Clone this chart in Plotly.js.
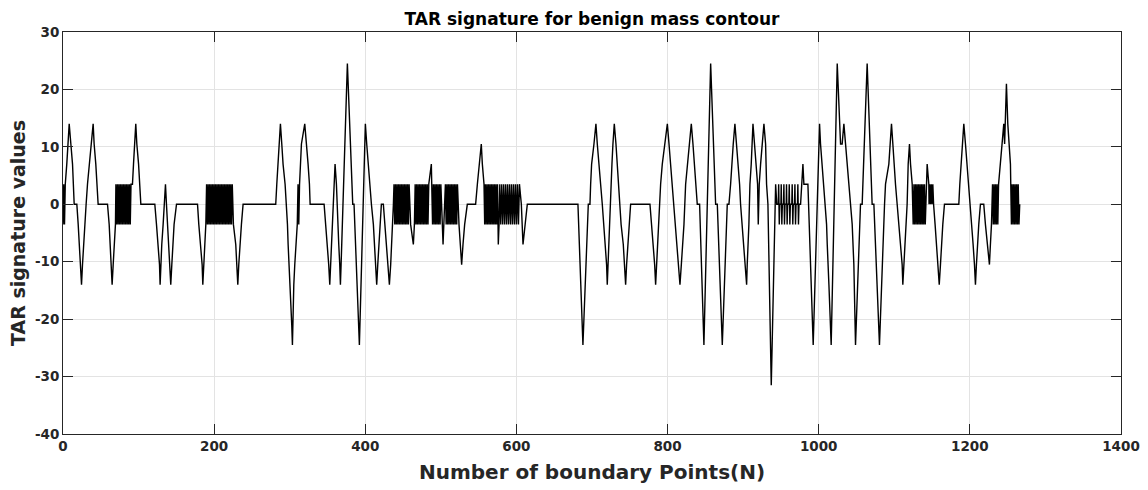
<!DOCTYPE html>
<html>
<head>
<meta charset="utf-8">
<script src="https://cdn.plot.ly/plotly-3.0.1.min.js"></script>
<style>html,body{margin:0;padding:0;background:#fff;}#chart{width:1148px;height:490px;}</style>
</head>
<body>
<div id="chart"></div>
<script>
// Vertices of the TAR signature polyline (N = boundary point, V = TAR value)
const segA_N = [0,1,2,3,5,6.5,8.2,10.4,12.6,14.8,18.3,20.1,21.8,23.6,24.5,25.8,27.1,28.9,30.6,32.4,34.6,36.8,39.9,41.2,43.4,46.5,58.9,61.1,62.4,64.2,65,66.4,67.7,69.4,
  70,71,72,73,74,75,76,77,78,79,80,81,82,83,84,85,86,87,88,89,90,
  91.9,93.3,95,96.3,97.7,100,103,121.5,123.7,125.9,127.7,128.5,129.4,130.7,132.5,133.8,135.6,136.9,138.2,140,141.3,142.6,144,145.3,147,150.2,178,179.7,182.3,184.1,185,186.3,187.6,189,
  190,191,192,193,194,195,196,197,198,199,200,201,202,203,204,205,206,207,208,209,210,211,212,213,214,215,216,217,218,219,220,221,222,223,224];
const segA_V = [-3.5,3.5,-3.5,3.5,7,10.5,14,10.5,7,0,0,-3.5,-7,-10.5,-14,-10.5,-7,-3.5,0,3.5,7,10.5,14,10.5,7,0,0,-3.5,-7,-10.5,-14,-10.5,-7,-3.5,
  3.5,-3.5,3.5,-3.5,3.5,-3.5,3.5,-3.5,3.5,-3.5,3.5,-3.5,3.5,-3.5,3.5,-3.5,3.5,-3.5,3.5,-3.5,3.5,
  3.5,7,10.5,14,10.5,7,0,0,-3.5,-7,-10.5,-14,-10.5,-7,-3.5,0,3.5,0,-3.5,-7,-10.5,-14,-10.5,-7,-3.5,0,0,-3.5,-7,-10.5,-14,-10.5,-7,-3.5,
  3.5,-3.5,3.5,-3.5,3.5,-3.5,3.5,-3.5,3.5,-3.5,3.5,-3.5,3.5,-3.5,3.5,-3.5,3.5,-3.5,3.5,-3.5,3.5,-3.5,3.5,-3.5,3.5,-3.5,3.5,-3.5,3.5,-3.5,3.5,-3.5,3.5,-3.5,3.5];

const segB_N = [225.5,228.6,230,231.3,232.6,233.9,236.1,238.3,281.5,282.9,284.2,286,287.7,289.5,291.2,293.9,295.6,297,297.9,299.2,301,301.8,302.7,303.6,304.5,305.4,306.7,308.4,310,311,312,313,314.2,315.5,319.9,321.6,324.3,326.1,327,345.5,347.7,349.9,351.6,353,354.3,356.1,358.7,360,361.8,363.5,364.9,366.2,367.1,368,376.3,383.4,385.1,392.2,400.1,401.9,403.7,405.9,408.1,410.7,412.5,413.8,415.1,416.5,418.2,419.5,421.3,423.9,425.7,428.3,430.1,431.9,433.6,435,436.3,437.2];
const segB_V = [-3.5,-7,-10.5,-14,-10.5,-7,-3.5,0,0,3.5,7,10.5,14,10.5,7,3.5,0,-3.5,-7,-10.5,-14,-17.5,-21,-24.5,-17.5,-14,-10.5,-7,-3.5,3.5,-3.5,3.5,7,10.5,14,10.5,7,3.5,0,0,-3.5,-7,-10.5,-14,-10.5,-3.5,3.5,7,3.5,-3.5,-7,-10.5,-14,-10.5,24.5,0,0,-24.5,14,10.5,7,3.5,0,-3.5,-7,-10.5,-14,-10.5,-7,-3.5,0,0,-3.5,-7,-10.5,-14,-10.5,-7,-3.5,0];

const segC_N = [438,439,440,441,442,443,444,445,446,447,448,449,450,451,452,453,454,455,456,457,458,460,463.6,465,
  466,467,468,469,470,471,472,473,474,475,476,477,478,479,480,481,482,483,484,487.4,
  489,490,491,492,493,494,495,496,497,498,499,500,502.9,504,
  506,507,508,509,510,511,512,513,514,515,516,517,518,519,520,521,522,524,526.2,527.5,529.3,531.5,535,546,548.3,550.9,553.5,554.9,557.1,
  558,559,560,561,562,563,564,565,566,567,568,569,570,571,572,573,574,575,576,577,
  578,579.3,580.6,581.9,583.2,584.5,585.8,587.1,588.4,589.7,591,592.3,593.6,594.9,596.2,597.5,598.8,600.1,601.4,602.7,604,605.6,606.5,608.7,611.3,614.4];
const segC_V = [3.5,-3.5,3.5,-3.5,3.5,-3.5,3.5,-3.5,3.5,-3.5,3.5,-3.5,3.5,-3.5,3.5,-3.5,3.5,-3.5,3.5,-3.5,3.5,-3.5,-7,-3.5,
  3.5,-3.5,3.5,-3.5,3.5,-3.5,3.5,-3.5,3.5,-3.5,3.5,-3.5,3.5,-3.5,3.5,-3.5,3.5,-3.5,3.5,7,
  -3.5,3.5,-3.5,3.5,-3.5,3.5,-3.5,3.5,-3.5,3.5,-3.5,3.5,-7,-3.5,
  3.5,-3.5,3.5,-3.5,3.5,-3.5,3.5,-3.5,3.5,-3.5,3.5,-3.5,3.5,-3.5,3.5,-3.5,3.5,-3.5,-7,-10.5,-7,-3.5,0,0,3.5,7,10.5,7,3.5,
  -3.5,3.5,-3.5,3.5,-3.5,3.5,-3.5,3.5,-3.5,3.5,-3.5,3.5,-3.5,3.5,-3.5,3.5,-3.5,3.5,-7,-3.5,
  3.5,-3.5,3.5,-3.5,3.5,-3.5,3.5,-3.5,3.5,-3.5,3.5,-3.5,3.5,-3.5,3.5,-3.5,3.5,-3.5,3.5,-3.5,3.5,0,0,-7,-3.5,0];

const segD_N = [681.4,688,695.1,697.3,698.2,699.5,702.6,705.2,707,709.6,711.4,713.6,715.8,718,719.3,720.2,721.1,722.4,723.7,725.1,726.4,727.7,729.5,731.7,733.4,735.6,737,738.5,741.4,743.2,744.5,745.8,747.6,749.4,751.1,776.7,778.9,781.1,782.9,784.2,785.5,786.9,788.6,790.8,793,796.1,799.7,801.9,804.1,807.6,810.7,812.9,815.1,816.4,818.2,819.9,821.7,823.9,826.1,828.8,831.4,833.6,835.8,839.3,842.4];
const segD_V = [0,-24.5,0,0,3.5,7,10.5,14,10.5,7,3.5,0,-3.5,-7,-10.5,-14,-10.5,-7,-3.5,3.5,7,10.5,14,10.5,7,3.5,0,-3.5,-7,-10.5,-14,-10.5,-7,-3.5,0,0,-3.5,-7,-10.5,-14,-10.5,-7,-3.5,3.5,7,10.5,14,10.5,7,0,-3.5,-7,-10.5,-14,-10.5,-7,-3.5,3.5,7,10.5,14,10.5,7,0,0];

const segE_N = [848.1,857,863.6,865.8,872.4,879,881.2,883.4,884.7,886.9,889.1,891.3,893.1,895.3,896.6,898.8,901,903.2,904.6,905.4,906.8,907.6,909,910.7,913,915.2,917.8,919.1,920,921.3,923.1,925.7,927.5,929.7,931,932.8,937.2,943,944.5,946.5,
  947,947.8,948.5,950,950.4,951.2,951.9,953.4,953.9,954.7,955.4,957,957.4,958.2,958.9,960.5,961,961.8,962.5,964.4,964.9,965.7,966.4,968,968.5,969.3,970,971.9,972.4,973.2,973.9,976,
  979.1,980.4,985.7,992.7,1001.1,1002.4,1004.6,1006.8,1009,1010.4,1011.3,1012.1,1013.5,1016.5,1024.5,1028.9,1031,1033.3,1035.5,1037.7,1039.9,1042.1,1044.3,1046.5,1048.7,1055.3,1057.5];
const segE_V = [-24.5,24.5,0,0,-24.5,0,0,3.5,7,10.5,14,10.5,7,3.5,0,-3.5,-7,-10.5,-14,-10.5,-7,-3.5,3.5,7,14,10.5,7,3.5,-3.5,3.5,7,10.5,14,10.5,3.5,0,-31.5,3.5,0,0,
  3.5,-3.5,0,0,3.5,-3.5,0,0,3.5,-3.5,0,0,3.5,-3.5,0,0,3.5,-3.5,0,0,3.5,-3.5,0,0,3.5,-3.5,0,0,3.5,-3.5,0,0,
  7,3.5,3.5,-24.5,14,10.5,7,3.5,0,-3.5,-7,-10.5,-14,-24.5,24.5,10.5,10.5,14,10.5,7,3.5,0,-3.5,-10.5,-24.5,0,0];

const segF_N = [1064.1,1070.7,1073,1080.4,1087.1,1088.4,1092.8,1095,1096.3,1098.1,1099.4,1101.6,1103.8,1106,1108.2,1110.4,1111.3,1112.6,1114,1115.3,1117,1118.4,1120.1,1121.5,1123.7,
  1125,1126,1127,1128,1129,1130,1131,1132,1133,1134,1135,1136,1137,1138,1139,1140,1141,1143.5,1145.7,
  1146,1147,1148,1149,1150,1151,1152,1154,1156,1157.8,1159.5,1161.1,1162.4,1164.2,1166.4,1185.4,1186.7,1188.5,1190.2,1192,1194.2,1196.4,1198.6,1200.8,1203,1204.3,1206.1,1207.4,1208.7,1210,1211.8,1214,1218.4,1220.6,1222.8,1225.9,1227.2,1228.6,
  1230,1231,1232,1233,1234,1235,1236,1237,1238,1240.5,1242.7,1244.9,1246,1247,1248.4,1250.2,1251.5,1253.7,
  1255,1256,1257,1258,1259,1260,1261,1262,1263,1264,1265,1266];
const segF_V = [24.5,0,0,-24.5,0,3.5,7,10.5,14,10.5,7,3.5,0,-3.5,-7,-10.5,-14,-10.5,-7,-3.5,0,7,10.5,7,3.5,
  -3.5,3.5,-3.5,3.5,-3.5,3.5,-3.5,3.5,-3.5,3.5,-3.5,3.5,-3.5,3.5,-3.5,3.5,-3.5,7,3.5,
  0,3.5,0,3.5,0,3.5,0,-3.5,-7,-10.5,-14,-10.5,-7,-3.5,0,0,3.5,7,10.5,14,10.5,7,3.5,0,-3.5,-7,-10.5,-14,-10.5,-7,-3.5,0,0,-3.5,-7,-10.5,-7,-3.5,
  3.5,-3.5,3.5,-3.5,3.5,-3.5,3.5,-3.5,3.5,7,10.5,14,10.5,14,21,14,10.5,7,
  -3.5,3.5,-3.5,3.5,-3.5,3.5,-3.5,3.5,-3.5,3.5,-3.5,0];

const xTicks = [0,200,400,600,800,1000,1200,1400];
const yTicks = [-40,-30,-20,-10,0,10,20,30];

const boundaryN = [].concat(segA_N, segB_N, segC_N, segD_N, segE_N, segF_N);
const tarValues = [].concat(segA_V, segB_V, segC_V, segD_V, segE_V, segF_V);

const FONT = 'DejaVu Sans, Verdana, sans-serif';
const trace = {
  x: boundaryN, y: tarValues, type: 'scatter', mode: 'lines',
  line: {color: '#000000', width: 1.4},
  hoverinfo: 'x+y'
};
const axisCommon = {
  showline: true, linecolor: '#262626', linewidth: 1, mirror: 'ticks',
  ticks: 'inside', ticklen: 10, tickcolor: '#262626', tickwidth: 1,
  showgrid: true, gridcolor: '#e3e3e3', gridwidth: 1, zeroline: false,
  tickfont: {family: FONT, size: 13.5, color: '#262626', weight: 'bold'},
  tickmode: 'array'
};
const layout = {
  width: 1148, height: 490,
  margin: {l: 63, r: 27, t: 32, b: 56},
  paper_bgcolor: '#ffffff', plot_bgcolor: '#ffffff',
  showlegend: false,
  title: {text: 'TAR signature for benign mass contour', font: {family: FONT, size: 17, color: '#000', weight: 'bold'},
          x: 0.5, xanchor: 'center', xref: 'paper', y: 1 - 19/490, yanchor: 'middle', yref: 'container'},
  xaxis: Object.assign({}, axisCommon, {range: [0, 1400], tickvals: xTicks, ticktext: xTicks.map(String),
          title: {text: 'Number of boundary Points(N)', font: {family: FONT, size: 20, color: '#262626', weight: 'bold'}, standoff: 11}}),
  yaxis: Object.assign({}, axisCommon, {range: [-40, 30], tickvals: yTicks, ticktext: yTicks.map(String),
          title: {text: 'TAR signature values', font: {family: FONT, size: 19, color: '#262626', weight: 'bold'}, standoff: 4}})
};
Plotly.newPlot('chart', [trace], layout, {displayModeBar: false, staticPlot: true});
</script>
</body>
</html>
